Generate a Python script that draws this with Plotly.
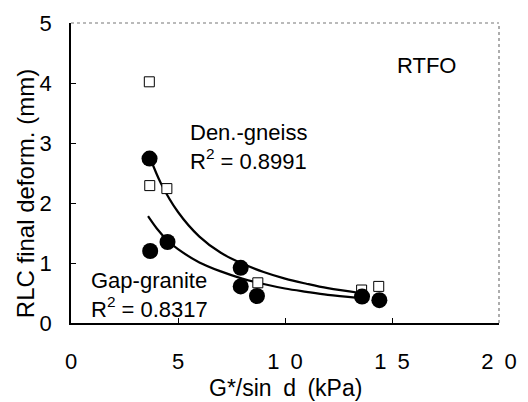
import plotly.graph_objects as go

# open squares
sq_x = [3.66, 3.68, 4.48, 8.73, 13.58, 14.38]
sq_y = [4.02, 2.29, 2.24, 0.67, 0.55, 0.61]
# filled circles
ci_x = [3.67, 3.70, 4.51, 7.93, 7.93, 8.69, 13.60, 14.41]
ci_y = [2.74, 1.20, 1.35, 0.92, 0.61, 0.45, 0.44, 0.38]
# fitted curves
den_x = [3.7, 4.2, 5.0, 6.0, 7.0, 8.0, 9.0, 10.0, 11.0, 12.0, 13.5]
den_y = [2.75, 2.33, 1.85, 1.44, 1.17, 0.99, 0.85, 0.74, 0.655, 0.58, 0.50]
gap_x = [3.6, 4.0, 4.5, 5.0, 6.0, 7.0, 8.0, 9.0, 10.0, 11.0, 12.0, 13.4]
gap_y = [1.78, 1.58, 1.38, 1.23, 1.01, 0.86, 0.74, 0.65, 0.575, 0.52, 0.47, 0.42]

x_ticks = [0, 5, 10, 15, 20]
x_ticktext = ["0", "5", "1\u20020", "1\u20025", "2\u20020"]
y_ticks = [0, 1, 2, 3, 4, 5]

FONT = "Liberation Sans, Arial, Helvetica, sans-serif"

fig = go.Figure()
fig.add_trace(go.Scatter(x=den_x, y=den_y, mode="lines", line=dict(color="black", width=2.2, shape="spline"),
                         showlegend=False, hoverinfo="skip"))
fig.add_trace(go.Scatter(x=gap_x, y=gap_y, mode="lines", line=dict(color="black", width=2.2, shape="spline"),
                         showlegend=False, hoverinfo="skip"))
fig.add_trace(go.Scatter(x=sq_x, y=sq_y, mode="markers",
                         marker=dict(symbol="square", size=10, color="white", line=dict(color="black", width=1)),
                         showlegend=False))
fig.add_trace(go.Scatter(x=ci_x, y=ci_y, mode="markers",
                         marker=dict(symbol="circle", size=16, color="black", line=dict(color="black", width=0)),
                         showlegend=False))

fig.update_xaxes(range=[0, 20], tickvals=x_ticks, ticktext=x_ticktext, ticks="inside", ticklen=5,
                 tickcolor="black", showline=True, linecolor="black", linewidth=1.5, showgrid=False,
                 zeroline=False, tickfont=dict(family=FONT, size=22, color="black"), ticklabelstandoff=18,
                 ticklabeloverflow="allow")
fig.update_yaxes(range=[0, 5], tickvals=y_ticks, ticks="inside", ticklen=5, tickcolor="black",
                 showline=True, linecolor="black", linewidth=1.5, showgrid=False, zeroline=False,
                 tickfont=dict(family=FONT, size=22, color="black"), ticklabelstandoff=13,
                 ticklabeloverflow="allow")

# dotted top and right frame
fig.add_shape(type="line", xref="paper", yref="paper", x0=0, x1=1, y0=1, y1=1,
              line=dict(color="#777777", width=1.2, dash="dot"))
fig.add_shape(type="line", xref="paper", yref="paper", x0=1, x1=1, y0=0, y1=1,
              line=dict(color="#777777", width=1.2, dash="dot"))

def ann(x, y, text, size=22, **kw):
    fig.add_annotation(x=x, y=y, text=text, showarrow=False, xanchor="left", yanchor="middle",
                       align="left", borderpad=0, font=dict(family=FONT, size=size, color="black"), **kw)

ann(5.5, 2.93, "Den.-gneiss<br>R<sup>2</sup> = 0.8991")
ann(0.9, 0.46, "Gap-granite<br>R<sup>2</sup> = 0.8317")
ann(15.2, 4.29, "RTFO")

fig.add_annotation(xref="paper", yref="paper", x=0.5, y=-0.215, text="G*/sin\u2002d\u2002(kPa)",
                   showarrow=False, xanchor="center", yanchor="middle",
                   font=dict(family=FONT, size=23, color="black"))
fig.add_annotation(xref="paper", yref="paper", x=-0.107, y=0.43, text="RLC final deform. (mm)",
                   textangle=-90, showarrow=False, xanchor="center", yanchor="middle",
                   font=dict(family=FONT, size=24, color="black"))

fig.update_layout(width=528, height=402, margin=dict(l=71, r=18, t=11, b=79),
                  plot_bgcolor="white", paper_bgcolor="white")

fig.write_html("out.html")
